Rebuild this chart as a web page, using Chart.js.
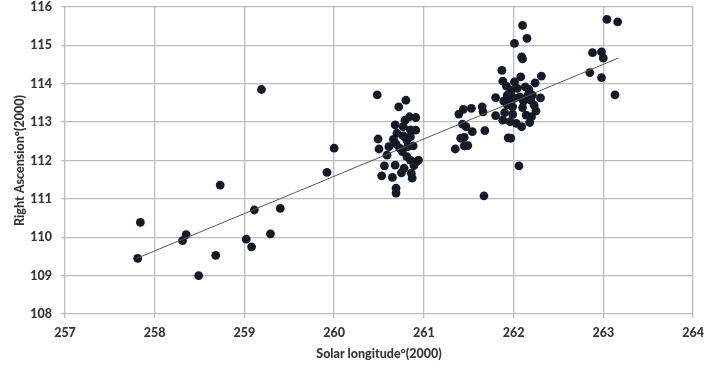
<!DOCTYPE html>
<html lang="en">
<head>
    <meta charset="UTF-8">
    <title>Right Ascension vs Solar longitude</title>
    <script src="https://cdn.jsdelivr.net/npm/chart.js"></script>
    <style>
        html, body { margin: 0; padding: 0; background: #fff; }
        #wrap { width: 707px; height: 367px; }
    </style>
</head>
<body>
    <div id="wrap"><canvas id="raChart" width="707" height="367"></canvas></div>

    <script>
        // Solar longitude (deg, J2000) of each observed point
        const solarLon = [
            257.81, 257.84, 258.31, 258.35, 258.49, 258.68, 258.73, 259.02, 259.08, 259.11,
            259.19, 259.29, 259.40, 259.92, 260.00,
            260.48, 260.49, 260.50, 260.53, 260.56, 260.59, 260.61, 260.65, 260.66, 260.68,
            260.68, 260.69, 260.69, 260.70, 260.69, 260.72, 260.73, 260.75, 260.77, 260.77,
            260.76, 260.78, 260.79, 260.80, 260.81, 260.81, 260.82, 260.84, 260.85, 260.85,
            260.85, 260.86, 260.87, 260.88, 260.89, 260.91, 260.91, 260.92, 260.94,
            261.35, 261.39, 261.41, 261.43, 261.44, 261.45, 261.47, 261.45, 261.49, 261.53,
            261.54, 261.65, 261.66, 261.68, 261.67, 261.80, 261.80,
            261.87, 261.88, 261.88, 261.89, 261.92, 261.93, 261.94, 261.96, 261.97, 261.97,
            261.99, 261.99, 262.01, 262.01, 262.01, 262.03, 262.04, 262.06, 262.07, 262.08,
            262.09, 262.09, 262.10, 262.10, 262.10, 262.11, 262.13, 262.14, 262.15, 262.16,
            262.17, 262.18, 262.19, 262.20, 262.21, 262.23, 262.24, 262.25, 262.30, 262.31,
            261.90, 261.93, 261.95, 261.97,
            262.85, 262.88, 262.98, 262.98, 263.00, 263.04, 263.13, 263.16
        ];
        // Right Ascension (deg, J2000) of each observed point
        const rightAsc = [
            109.45, 110.39, 109.91, 110.07, 109.00, 109.53, 111.36, 109.95, 109.75, 110.71,
            113.85, 110.09, 110.75, 111.69, 112.32,
            113.71, 112.56, 112.30, 111.60, 111.86, 112.14, 112.36, 111.56, 112.55, 112.93,
            111.88, 111.28, 111.15, 112.71, 112.43, 113.40, 112.32, 111.68, 112.88, 112.64,
            112.23, 111.80, 113.05, 113.57, 112.53, 112.10, 112.36, 113.14, 112.80, 112.62,
            112.01, 111.67, 111.54, 112.38, 111.87, 113.12, 112.79, 111.97, 112.01,
            112.30, 113.21, 112.58, 112.95, 113.33, 112.38, 112.88, 112.60, 112.39, 113.36,
            112.75, 113.40, 113.27, 112.78, 111.08, 113.64, 113.17,
            114.35, 114.07, 113.05, 113.55, 113.94, 113.70, 112.59, 113.01, 113.83, 112.58,
            113.40, 113.20, 115.05, 114.05, 113.62, 112.97, 113.88, 111.86, 113.66, 114.18,
            114.70, 112.88, 113.38, 115.52, 114.65, 113.55, 113.92, 113.18, 115.18, 113.70,
            113.85, 112.99, 113.57, 113.14, 113.70, 113.44, 114.02, 113.29, 113.63, 114.20,
            113.25, 113.45, 113.60, 113.75,
            114.29, 114.81, 114.83, 114.16, 114.67, 115.68, 113.71, 115.61
        ];
        // Linear trendline end points
        const trendLon = [257.80, 263.17];
        const trendRA = [109.45, 114.67];

        const xTicks = [257, 258, 259, 260, 261, 262, 263, 264];
        const yTicks = [108, 109, 110, 111, 112, 113, 114, 115, 116];

        const points = solarLon.map((x, i) => ({ x: x, y: rightAsc[i] }));
        const trend = trendLon.map((x, i) => ({ x: x, y: trendRA[i] }));

        const tickFont = { family: "Lato, 'Liberation Sans', sans-serif", size: 12.5, weight: 900 };
        const textColor = "#353535";
        const gridColor = "#bdbdbd";

        const whiteBg = {
            id: "whiteBg",
            beforeDraw(chart) {
                const c = chart.ctx;
                c.save();
                c.fillStyle = "#fff";
                c.fillRect(0, 0, chart.width, chart.height);
                c.restore();
            }
        };

        new Chart(document.getElementById("raChart").getContext("2d"), {
            type: "scatter",
            data: {
                datasets: [
                    {
                        label: "Trend",
                        type: "line",
                        data: trend,
                        borderColor: "#5a5a5a",
                        borderWidth: 1,
                        pointRadius: 0,
                        fill: false
                    },
                    {
                        label: "Observations",
                        data: points,
                        backgroundColor: "#141927",
                        borderColor: "#141927",
                        borderWidth: 0,
                        pointRadius: 4.4
                    }
                ]
            },
            options: {
                responsive: false,
                animation: false,
                layout: { padding: { top: 7, right: 14, left: 0, bottom: 0 } },
                plugins: {
                    legend: { display: false },
                    tooltip: { enabled: false }
                },
                scales: {
                    x: {
                        type: "linear",
                        min: xTicks[0],
                        max: xTicks[xTicks.length - 1],
                        afterBuildTicks: (axis) => { axis.ticks = xTicks.map(v => ({ value: v })); },
                        afterFit: (axis) => {
                            axis.height = 53;
                            axis.paddingLeft = 0;
                            axis.paddingRight = 0;
                        },
                        ticks: { color: textColor, font: tickFont, padding: 7 },
                        grid: { color: gridColor, lineWidth: 1.3, drawTicks: true, tickLength: 4 },
                        border: { display: false },
                        title: {
                            display: true,
                            text: "Solar longitude°(2000)",
                            color: textColor,
                            font: tickFont,
                            padding: { top: 0, bottom: 6 }
                        }
                    },
                    y: {
                        type: "linear",
                        min: yTicks[0],
                        max: yTicks[yTicks.length - 1],
                        afterBuildTicks: (axis) => { axis.ticks = yTicks.map(v => ({ value: v })); },
                        afterFit: (axis) => {
                            axis.width = 65;
                            axis.paddingTop = 0;
                            axis.paddingBottom = 0;
                        },
                        ticks: { color: textColor, font: tickFont, padding: 9 },
                        grid: { color: gridColor, lineWidth: 1.3, drawTicks: true, tickLength: 4 },
                        border: { display: false },
                        title: {
                            display: true,
                            text: "Right Ascension°(2000)",
                            color: textColor,
                            font: tickFont,
                            padding: { top: 12, bottom: 0 }
                        }
                    }
                }
            },
            plugins: [whiteBg]
        });
    </script>
</body>
</html>
